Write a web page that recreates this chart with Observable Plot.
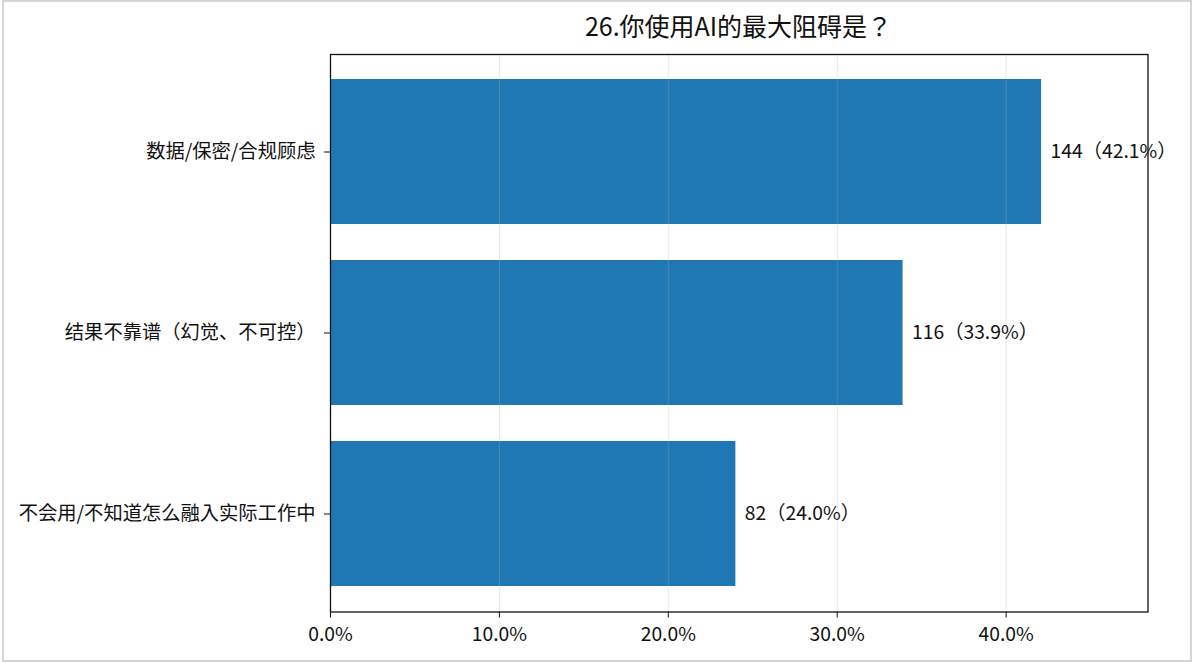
<!DOCTYPE html>
<html>
<head>
<meta charset="utf-8">
<script src="https://cdn.jsdelivr.net/npm/d3@7"></script>
<script src="https://cdn.jsdelivr.net/npm/@observablehq/plot@0.6"></script>
<style>
  html, body { margin: 0; padding: 0; background: #fff; }
  #wrap { position: relative; width: 1194px; height: 663px; overflow: hidden; font-family: "Noto Sans CJK JP", "Noto Sans CJK SC", "Noto Sans", sans-serif; }
  #border { position: absolute; left: 2px; top: 0px; width: 1186px; height: 658px; border: 2px solid #d6d6d6; box-sizing: content-box; pointer-events: none; }
  #title { position: absolute; left: 330px; width: 817px; top: 12.5px; text-align: center; font-size: 25px; line-height: 25px; color: #111; }
  #chart { position: absolute; left: 0; top: 0; }
</style>
</head>
<body>
<div id="wrap">
  <div id="chart"></div>
  <div id="border"></div>
  <div id="title">26.你使用AI的最大阻碍是？</div>
</div>
<script>
const categories = ["数据/保密/合规顾虑", "结果不靠谱（幻觉、不可控）", "不会用/不知道怎么融入实际工作中"];
const counts = [144, 116, 82];
const percents = [42.1, 33.9, 24.0];
const xTicks = [0, 10, 20, 30, 40];

const data = categories.map((c, i) => ({category: c, count: counts[i], pct: percents[i]}));
const FS = 19.3;

const chart = Plot.plot({
  width: 1194,
  height: 663,
  marginLeft: 330,
  marginRight: 46.5,
  marginTop: 54,
  marginBottom: 51.5,
  style: {fontFamily: '"Noto Sans CJK JP", "Noto Sans CJK SC", "Noto Sans", sans-serif', fontSize: FS + "px", color: "#111", background: "transparent"},
  x: {domain: [0, 48.4], ticks: xTicks, tickFormat: d => d.toFixed(1) + "%", label: null},
  y: {domain: categories, paddingInner: 0.2, paddingOuter: 0.14, label: null},
  marks: [
    Plot.barX(data, {y: "category", x: "pct", fill: "#1f77b4"}),
    Plot.gridX(xTicks, {stroke: "#b0b0b0", strokeOpacity: 0.3, strokeWidth: 1}),
    Plot.frame({stroke: "#111", strokeWidth: 1.3}),
    Plot.axisX({ticks: xTicks, tickFormat: d => d.toFixed(1) + "%", tickSize: 6, tickPadding: 9, fontSize: FS, label: null, stroke: "#111"}),
    Plot.axisY({tickSize: 6, tickPadding: 9, fontSize: FS, label: null, stroke: "#111"}),
    Plot.text(data, {y: "category", x: "pct", text: d => `${d.count}（${d.pct.toFixed(1)}%）`, textAnchor: "start", dx: 9, fontSize: FS, fill: "#111"})
  ]
});
document.getElementById("chart").appendChild(chart);
</script>
</body>
</html>
